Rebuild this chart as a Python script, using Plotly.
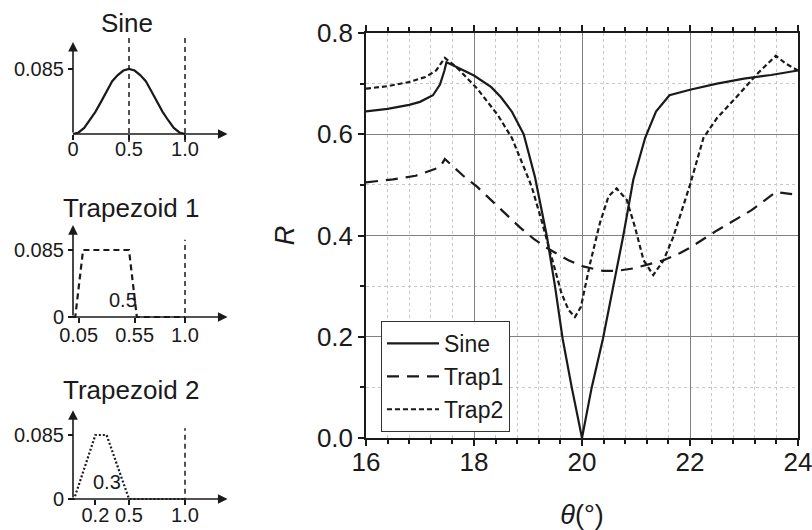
import plotly.graph_objects as go

W, H = 812, 530

# ---------------- main chart data ----------------
theta_sine = [16.0, 16.4, 16.8, 17.0, 17.24, 17.37, 17.45, 17.49, 17.6, 17.81, 18.0, 18.32, 18.5, 18.7,
              18.92, 19.13, 19.35, 19.5, 19.64, 19.81, 20.0, 20.18, 20.39, 20.58, 20.76, 20.95, 21.17,
              21.37, 21.62, 22.0, 22.5, 23.0, 23.5, 24.0]
R_sine = [0.645, 0.650, 0.658, 0.664, 0.677, 0.698, 0.725, 0.742, 0.737, 0.726, 0.716, 0.693, 0.673, 0.645,
          0.600, 0.515, 0.398, 0.300, 0.197, 0.100, 0.0, 0.100, 0.197, 0.300, 0.397, 0.510, 0.593,
          0.645, 0.677, 0.688, 0.700, 0.710, 0.717, 0.726]

theta_trap1 = [16.0, 16.5, 16.92, 17.2, 17.37, 17.46, 17.56, 17.8, 18.06, 18.44, 18.85, 19.10, 19.31,
               19.75, 20.02, 20.39, 20.64, 20.95, 21.20, 21.51, 21.81, 22.0, 22.5, 23.14, 23.59, 23.78, 24.0]
R_trap1 = [0.505, 0.511, 0.518, 0.528, 0.535, 0.551, 0.541, 0.518, 0.496, 0.457, 0.416, 0.394, 0.378,
           0.351, 0.339, 0.330, 0.330, 0.335, 0.342, 0.351, 0.365, 0.376, 0.410, 0.450, 0.486, 0.483, 0.480]

theta_trap2 = [16.0, 16.4, 16.79, 17.1, 17.30, 17.46, 17.68, 18.06, 18.44, 18.70, 18.95, 19.07, 19.25,
               19.47, 19.62, 19.75, 19.87, 19.98, 20.15, 20.33, 20.49, 20.64, 20.83, 20.98, 21.14, 21.32,
               21.51, 21.69, 21.94, 22.0, 22.25, 22.5, 22.89, 23.27, 23.59, 23.78, 24.0]
R_trap2 = [0.690, 0.695, 0.703, 0.713, 0.726, 0.751, 0.732, 0.690, 0.638, 0.593, 0.528, 0.496, 0.430,
           0.345, 0.286, 0.253, 0.239, 0.259, 0.345, 0.424, 0.477, 0.493, 0.470, 0.417, 0.351, 0.322,
           0.351, 0.397, 0.477, 0.500, 0.593, 0.632, 0.677, 0.722, 0.755, 0.739, 0.726]

series_names = ["Sine", "Trap1", "Trap2"]

# ---------------- inset profile data ----------------
sine_px = [0, 0.05, 0.1, 0.15, 0.2, 0.25, 0.3, 0.35, 0.4, 0.45, 0.5, 0.55, 0.6, 0.65, 0.7, 0.75,
           0.8, 0.85, 0.9, 0.95, 1.0]
sine_py = [0, 0.002, 0.008, 0.018, 0.029, 0.042, 0.056, 0.069, 0.077, 0.083, 0.085, 0.083, 0.077,
           0.069, 0.056, 0.042, 0.029, 0.018, 0.008, 0.002, 0]
trap1_px = [0, 0.02, 0.09, 0.5, 0.57, 1.0]
trap1_py = [0, 0, 0.085, 0.085, 0, 0]
trap2_px = [0, 0.01, 0.2, 0.3, 0.5, 1.0]
trap2_py = [0, 0, 0.085, 0.085, 0, 0]

inset_titles = ["Sine", "Trapezoid 1", "Trapezoid 2"]
inset_xticks = [[0, 0.5, 1.0], [0.05, 0.55, 1.0], [0.2, 0.5, 1.0]]
inset_xticktext = [["0", "0.5", "1.0"], ["0.05", "0.55", "1.0"], ["0.2", "0.5", "1.0"]]
inset_yticks = [[0.085], [0, 0.085], [0, 0.085]]
inset_yticktext = [["0.085"], ["0", "0.085"], ["0", "0.085"]]

FONT = "Arial, Liberation Sans, sans-serif"
INK = "#1a1a1a"


def pxx(p):
    return p / W


def pxy(p):
    return 1 - p / H


fig = go.Figure()

# main traces
fig.add_trace(go.Scatter(x=theta_sine, y=R_sine, mode="lines", name=series_names[0],
                         line=dict(color=INK, width=2.2), xaxis="x", yaxis="y"))
fig.add_trace(go.Scatter(x=theta_trap1, y=R_trap1, mode="lines", name=series_names[1],
                         line=dict(color=INK, width=2.2, dash="12px,8px"), xaxis="x", yaxis="y"))
fig.add_trace(go.Scatter(x=theta_trap2, y=R_trap2, mode="lines", name=series_names[2],
                         line=dict(color=INK, width=2.2, dash="5px,3px"), xaxis="x", yaxis="y"))

# insets: pixel geometry (x=0 px, y=0 px, px per unit y)
inset_geom = [
    dict(y0=134, ppu=764.7, arrow_top=0.1203, standoff=-8,
         vlines=[(0.5, -0.0105, 0.129), (1.0, -0.0105, 0.129)]),
    dict(y0=317, ppu=788.0, arrow_top=0.1167, standoff=-5, vlines=[(1.0, -0.0065, 0.098)]),
    dict(y0=499, ppu=753.0, arrow_top=0.118, standoff=-7, vlines=[(1.0, -0.005, 0.094)]),
]
x0_px, xppu = 73, 112.0
xr = [-0.06, 1.45]
yr = [-0.014, 0.135]
profiles = [(sine_px, sine_py, "solid"), (trap1_px, trap1_py, "6px,4px"), (trap2_px, trap2_py, "2px,2px")]

layout_axes = {}
annotations = []
for i, g in enumerate(inset_geom):
    n = i + 2
    xa, ya = f"x{n}", f"y{n}"
    px_l = x0_px + xr[0] * xppu
    px_r = x0_px + xr[1] * xppu
    py_b = g["y0"] - yr[0] * g["ppu"]
    py_t = g["y0"] - yr[1] * g["ppu"]
    layout_axes[f"xaxis{n}"] = dict(
        domain=[pxx(px_l), pxx(px_r)], range=xr, anchor="free", position=pxy(g["y0"]),
        showline=False, showgrid=False, zeroline=False, tickvals=inset_xticks[i],
        ticktext=inset_xticktext[i], ticks="outside", ticklen=5, tickwidth=1.5, tickcolor=INK,
        ticklabelstandoff=g["standoff"], ticklabeloverflow="allow",
        tickfont=dict(size=20, color=INK, family=FONT), fixedrange=True, automargin=False)
    layout_axes[f"yaxis{n}"] = dict(
        domain=[pxy(py_b), pxy(py_t)], range=yr, anchor="free", position=pxx(x0_px),
        showline=False, showgrid=False, zeroline=False, tickvals=inset_yticks[i],
        ticktext=inset_yticktext[i], ticks="outside", ticklen=5, tickwidth=1.5, tickcolor=INK,
        tickfont=dict(size=20, color=INK, family=FONT), fixedrange=True, automargin=False)
    px_, py_, dash = profiles[i]
    fig.add_trace(go.Scatter(x=px_, y=py_, mode="lines", showlegend=False, xaxis=xa, yaxis=ya,
                             line=dict(color=INK, width=2.2, dash=dash)))
    for (vx, vb, vt) in g["vlines"]:
        fig.add_trace(go.Scatter(x=[vx, vx], y=[vb, vt], mode="lines", showlegend=False,
                                 xaxis=xa, yaxis=ya, line=dict(color=INK, width=1.5, dash="5px,4px")))
    # axis arrows
    annotations.append(dict(x=1.38, y=0, ax=0, ay=0, xref=xa, yref=ya, axref=xa, ayref=ya,
                            showarrow=True, arrowhead=2, arrowsize=1.2, arrowwidth=1.6,
                            arrowcolor=INK, text=""))
    annotations.append(dict(x=0, y=g["arrow_top"], ax=0, ay=0, xref=xa, yref=ya, axref=xa, ayref=ya,
                            showarrow=True, arrowhead=2, arrowsize=1.2, arrowwidth=1.6,
                            arrowcolor=INK, text=""))

# inset titles
for t, (cx, cy) in zip(inset_titles, [(127, 23), (131, 208), (131, 390)]):
    annotations.append(dict(x=pxx(cx), y=pxy(cy), xref="paper", yref="paper", text=t,
                            showarrow=False, font=dict(size=26, color=INK, family=FONT),
                            xanchor="center", yanchor="middle"))
# inner width labels
annotations.append(dict(x=0.45, y=0.022, xref="x3", yref="y3", text="0.5", showarrow=False,
                        font=dict(size=20, color=INK, family=FONT)))
annotations.append(dict(x=0.3, y=0.023, xref="x4", yref="y4", text="0.3", showarrow=False,
                        font=dict(size=20, color=INK, family=FONT)))

fig.update_layout(
    width=W, height=H, margin=dict(l=0, r=0, t=0, b=0, autoexpand=False),
    paper_bgcolor="white", plot_bgcolor="white",
    font=dict(family=FONT, color=INK),
    xaxis=dict(domain=[pxx(366), pxx(798)], range=[16, 24], dtick=2, tick0=16,
               showline=True, linecolor=INK, linewidth=1.5, mirror="ticks",
               ticks="outside", ticklen=6, tickwidth=1.5, tickcolor=INK,
               ticklabelstandoff=-6, ticklabeloverflow="allow",
               showgrid=True, gridcolor="#808080", gridwidth=1, zeroline=False,
               minor=dict(dtick=0.4, tick0=16, showgrid=True, gridcolor="#c8c8c8", griddash="dot",
                          ticks="outside", ticklen=4, tickcolor=INK),
               tickfont=dict(size=26, color=INK, family=FONT),
               title=dict(text="<i>θ</i>(°)", font=dict(size=27, color=INK, family=FONT), standoff=36),
               fixedrange=True, automargin=False),
    yaxis=dict(domain=[pxy(438), pxy(33)], range=[0, 0.8], dtick=0.2, tickformat=".1f",
               showline=True, linecolor=INK, linewidth=1.5, mirror=True,
               ticks="outside", ticklen=6, tickwidth=1.5, tickcolor=INK,
               showgrid=True, gridcolor="#808080", gridwidth=1, zeroline=False,
               minor=dict(dtick=0.1, showgrid=True, gridcolor="#c8c8c8", griddash="dot",
                          ticks="outside", ticklen=4, tickcolor=INK),
               tickfont=dict(size=26, color=INK, family=FONT),
               title=dict(text="<i>R</i>", font=dict(size=27, color=INK, family=FONT), standoff=14),
               fixedrange=True, automargin=False),
    legend=dict(x=pxx(381), y=pxy(321), xanchor="left", yanchor="top", bgcolor="white",
                bordercolor="#333333", borderwidth=1, font=dict(size=23, color=INK, family=FONT),
                tracegroupgap=0, itemwidth=52),
    annotations=annotations,
    showlegend=True,
    **layout_axes,
)

fig.write_html("out.html")
